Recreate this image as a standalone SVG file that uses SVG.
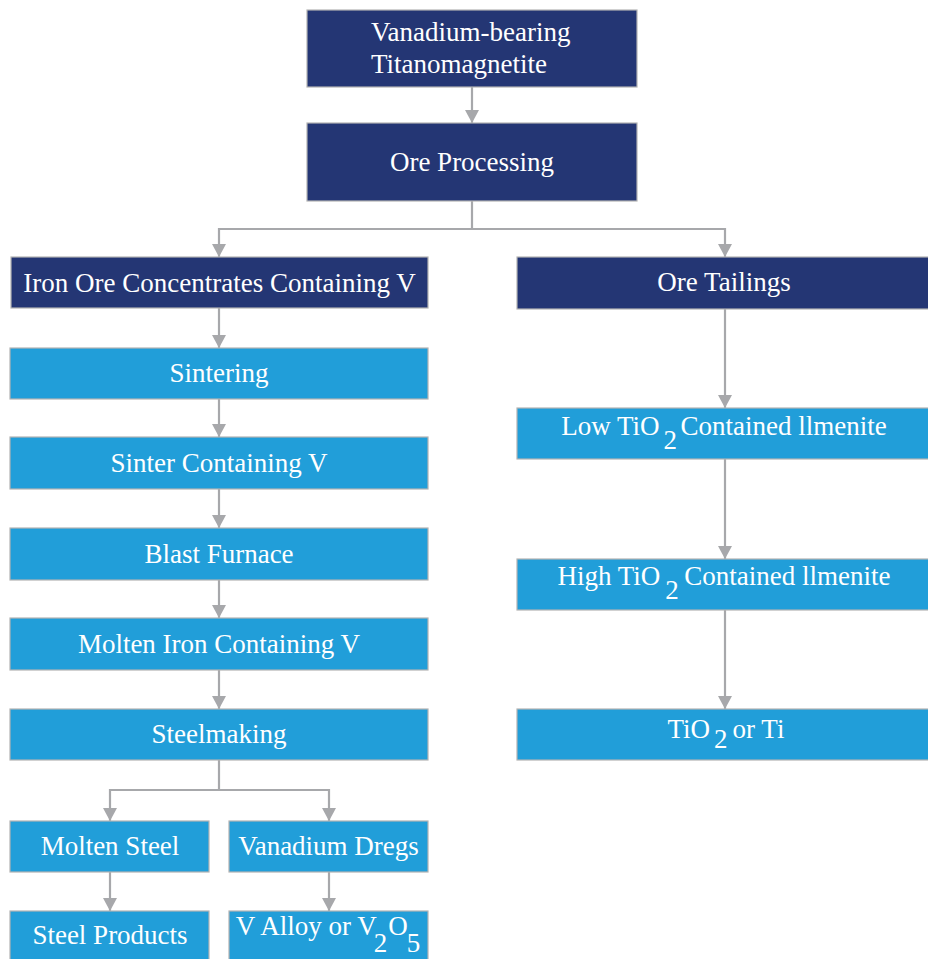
<svg xmlns="http://www.w3.org/2000/svg" width="928" height="959" viewBox="0 0 928 959">
<defs>
<style>
.dk{fill:#243674;stroke:#b3b3b3;stroke-width:1.2}
.lt{fill:#219ED9;stroke:#b3b3b3;stroke-width:1.2}
text{font-family:'Liberation Serif','Times New Roman',Times,serif;font-size:27px;fill:#ffffff}
.c{text-anchor:middle}
.con{fill:none;stroke:#a7a8ab;stroke-width:2.2}
</style>
<marker id="ah" markerUnits="userSpaceOnUse" markerWidth="13" markerHeight="14" refX="13" refY="7" orient="auto" viewBox="0 0 13 14">
<path d="M0,0 L13,7 L0,14 z" fill="#a7a8ab"/>
</marker>
</defs>
<g id="connectors">
<line class="con" x1="472" y1="87" x2="472" y2="123" marker-end="url(#ah)"/>
<polyline class="con" points="472,201 472,229 219,229 219,257" marker-end="url(#ah)"/>
<polyline class="con" points="472,229 725,229 725,257" marker-end="url(#ah)"/>
<line class="con" x1="219" y1="308" x2="219" y2="348" marker-end="url(#ah)"/>
<line class="con" x1="219" y1="399" x2="219" y2="437" marker-end="url(#ah)"/>
<line class="con" x1="219" y1="489" x2="219" y2="528" marker-end="url(#ah)"/>
<line class="con" x1="219" y1="580" x2="219" y2="618" marker-end="url(#ah)"/>
<line class="con" x1="219" y1="670" x2="219" y2="709" marker-end="url(#ah)"/>
<polyline class="con" points="219,760 219,790 110,790 110,821" marker-end="url(#ah)"/>
<polyline class="con" points="219,790 329,790 329,821" marker-end="url(#ah)"/>
<line class="con" x1="110" y1="872" x2="110" y2="911" marker-end="url(#ah)"/>
<line class="con" x1="329" y1="872" x2="329" y2="911" marker-end="url(#ah)"/>
<line class="con" x1="725" y1="309" x2="725" y2="408" marker-end="url(#ah)"/>
<line class="con" x1="725" y1="459" x2="725" y2="559" marker-end="url(#ah)"/>
<line class="con" x1="725" y1="610" x2="725" y2="709" marker-end="url(#ah)"/>
</g>
<g id="vtm">
<rect class="dk" x="307" y="10" width="330" height="77"/>
<text x="371" y="41">Vanadium-bearing</text>
<text x="371" y="73">Titanomagnetite</text>
</g>
<g id="ore-processing">
<rect class="dk" x="307" y="123" width="330" height="78"/>
<text class="c" x="472" y="171">Ore Processing</text>
</g>
<g id="iron-ore">
<rect class="dk" x="11" y="257" width="417" height="51"/>
<text class="c" x="219.5" y="291.5">Iron Ore Concentrates Containing V</text>
</g>
<g id="ore-tailings">
<rect class="dk" x="517" y="257" width="415" height="52"/>
<text class="c" x="724" y="291">Ore Tailings</text>
</g>
<g id="sintering">
<rect class="lt" x="10" y="348" width="418" height="51"/>
<text class="c" x="219" y="382">Sintering</text>
</g>
<g id="sinter">
<rect class="lt" x="10" y="437" width="418" height="52"/>
<text class="c" x="219" y="472">Sinter Containing V</text>
</g>
<g id="blast-furnace">
<rect class="lt" x="10" y="528" width="418" height="52"/>
<text class="c" x="219" y="563">Blast Furnace</text>
</g>
<g id="molten-iron">
<rect class="lt" x="10" y="618" width="418" height="52"/>
<text class="c" x="219" y="653">Molten Iron Containing V</text>
</g>
<g id="steelmaking">
<rect class="lt" x="10" y="709" width="418" height="51"/>
<text class="c" x="219" y="743">Steelmaking</text>
</g>
<g id="molten-steel">
<rect class="lt" x="10" y="821" width="199" height="51"/>
<text class="c" x="110" y="855">Molten Steel</text>
</g>
<g id="vanadium-dregs">
<rect class="lt" x="229" y="821" width="199" height="51"/>
<text class="c" x="328.5" y="855">Vanadium Dregs</text>
</g>
<g id="steel-products">
<rect class="lt" x="10" y="911" width="199" height="52"/>
<text class="c" x="110" y="944">Steel Products</text>
</g>
<g id="v-alloy">
<rect class="lt" x="229" y="911" width="199" height="52"/>
<text class="c" x="328" y="935">V Alloy or V<tspan dx="-3" dy="17">2</tspan><tspan dx="1" dy="-17">O</tspan><tspan dx="-1" dy="17">5</tspan></text>
</g>
<g id="low-tio2">
<rect class="lt" x="517" y="408" width="415" height="51"/>
<text class="c" x="724" y="435">Low TiO<tspan dx="4" dy="14">2</tspan><tspan dx="3.5" dy="-14">Contained llmenite</tspan></text>
</g>
<g id="high-tio2">
<rect class="lt" x="517" y="559" width="415" height="51"/>
<text class="c" x="724" y="585">High TiO<tspan dx="5" dy="14">2</tspan><tspan dx="5.5" dy="-14">Contained llmenite</tspan></text>
</g>
<g id="tio2-ti">
<rect class="lt" x="517" y="709" width="415" height="51"/>
<text class="c" x="726" y="738">TiO<tspan dx="4" dy="10">2</tspan><tspan dx="5" dy="-10">or Ti</tspan></text>
</g>
</svg>
